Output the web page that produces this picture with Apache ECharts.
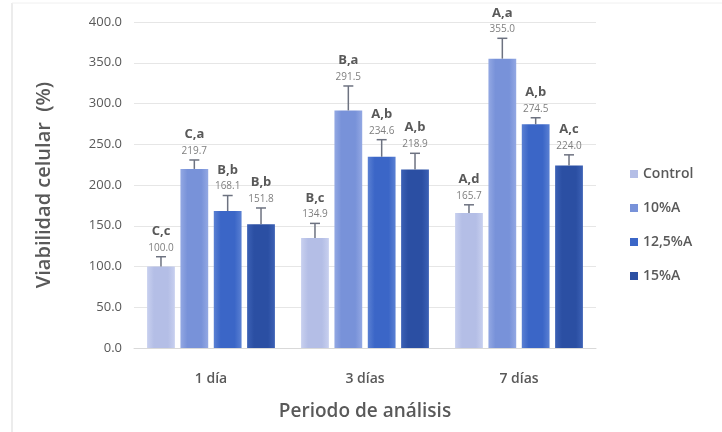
<!DOCTYPE html>
<html>
<head>
<meta charset="utf-8">
<script src="https://cdn.jsdelivr.net/npm/echarts@6/dist/echarts.min.js"></script>
<style>
  html, body { margin: 0; padding: 0; background: #fff; }
  #chart { width: 722px; height: 432px; }
</style>
</head>
<body>
<div id="chart"></div>
<script>
// datos
var categories = ['1 día', '3 días', '7 días'];
var seriesNames = ['Control', '10%A', '12,5%A', '15%A'];

var control = [100.0, 134.9, 165.7];
var a10 = [219.7, 291.5, 355.0];
var a125 = [168.1, 234.6, 274.5];
var a15 = [151.8, 218.9, 224.0];

// desviaciones (barras de error, estimadas)
var controlErr = [12, 18, 10];
var a10Err = [11, 30, 25];
var a125Err = [19, 21, 8];
var a15Err = [20, 20, 13];

// letras de significancia
var controlLet = ['C,c', 'B,c', 'A,d'];
var a10Let = ['C,a', 'B,a', 'A,a'];
var a125Let = ['B,b', 'A,b', 'A,b'];
var a15Let = ['B,b', 'A,b', 'A,c'];

var yMin = 0, yMax = 400, yStep = 50;

var values = [control, a10, a125, a15];
var errs = [controlErr, a10Err, a125Err, a15Err];
var letters = [controlLet, a10Let, a125Let, a15Let];
var colors = ['#b4bee6', '#7892d9', '#3b66c7', '#2b4fa3'];
var edge = ['#c8d0ef', '#93a8e3', '#5a80d3', '#3c61b5'];

var catGap = 0.17, barGap = 0.2;
var fontFam = "'Open Sans', 'Noto Sans', sans-serif";

function grad(i) {
  return new echarts.graphic.LinearGradient(0, 0, 1, 0, [
    { offset: 0, color: edge[i] },
    { offset: 0.25, color: colors[i] },
    { offset: 0.75, color: colors[i] },
    { offset: 1, color: edge[i] }
  ]);
}

// barra de error + etiquetas arriba
function errorItem(si) {
  return function (params, api) {
    var cat = api.value(0), val = api.value(1), err = api.value(2);
    var band = api.size([1, 0])[0];
    var w = band * (1 - catGap) / (4 + 3 * barGap);
    var off = (si - 1.5) * (1 + barGap) * w;
    var p0 = api.coord([cat, val]);
    var p1 = api.coord([cat, val + err]);
    var x = p0[0] + off;
    var lc = '#6d7280';
    return {
      type: 'group',
      children: [
        { type: 'line', shape: { x1: x, y1: p0[1], x2: x, y2: p1[1] }, style: { stroke: lc, lineWidth: 1.5 } },
        { type: 'line', shape: { x1: x - 5, y1: p1[1], x2: x + 5, y2: p1[1] }, style: { stroke: lc, lineWidth: 1.5 } },
        { type: 'text', style: { text: val.toFixed(1), x: x, y: p1[1] - 4, align: 'center', verticalAlign: 'bottom',
            fill: '#7f7f7f', font: '10px ' + fontFam } },
        { type: 'text', style: { text: letters[si][params.dataIndex], x: x, y: p1[1] - 19, align: 'center', verticalAlign: 'bottom',
            fill: '#595959', font: 'bold 13px ' + fontFam } }
      ]
    };
  };
}

var series = [];
seriesNames.forEach(function (name, i) {
  series.push({
    name: name,
    type: 'bar',
    data: values[i],
    barGap: (barGap * 100) + '%',
    barCategoryGap: (catGap * 100) + '%',
    itemStyle: { color: grad(i) }
  });
});
seriesNames.forEach(function (name, i) {
  series.push({
    type: 'custom',
    renderItem: errorItem(i),
    z: 5,
    data: values[i].map(function (v, k) { return [k, v, errs[i][k]]; })
  });
});

var chart = echarts.init(document.getElementById('chart'));
chart.setOption({
  backgroundColor: '#fff',
  animation: false,
  textStyle: { fontFamily: fontFam },
  grid: { left: 134, right: 126, top: 22, bottom: 84 },
  legend: {
    data: seriesNames.map(function (n, i) { return { name: n, itemStyle: { color: colors[i] } }; }),
    orient: 'vertical',
    left: 625,
    top: 162,
    icon: 'rect',
    itemWidth: 8,
    itemHeight: 8,
    itemGap: 20,
    textStyle: { fontSize: 14, color: '#595959', fontWeight: 600, fontFamily: fontFam }
  },
  xAxis: {
    type: 'category',
    data: categories,
    name: 'Periodo de análisis',
    nameLocation: 'middle',
    nameGap: 54,
    nameTextStyle: { fontSize: 19, fontWeight: 600, color: '#595959' },
    axisTick: { show: false },
    axisLine: { lineStyle: { color: '#d9d9d9' } },
    axisLabel: { fontSize: 14, fontWeight: 600, color: '#595959', margin: 24 }
  },
  yAxis: {
    type: 'value',
    min: yMin,
    max: yMax,
    interval: yStep,
    name: 'Viabilidad celular  (%)',
    nameLocation: 'middle',
    nameGap: 80,
    nameTextStyle: { fontSize: 20, fontWeight: 600, color: '#595959' },
    axisLine: { show: false },
    axisTick: { show: false },
    axisLabel: { fontSize: 13, color: '#595959', margin: 12, formatter: function (v) { return v.toFixed(1); } },
    splitLine: { lineStyle: { color: '#e6e6e6' } }
  },
  graphic: [
    { type: 'line', shape: { x1: 12, y1: 3, x2: 12, y2: 432 }, style: { stroke: '#d9d9d9', lineWidth: 1 } },
    { type: 'line', shape: { x1: 12, y1: 3, x2: 722, y2: 3 }, style: { stroke: '#f0f0f0', lineWidth: 1 } }
  ],
  series: series
});
</script>
</body>
</html>
